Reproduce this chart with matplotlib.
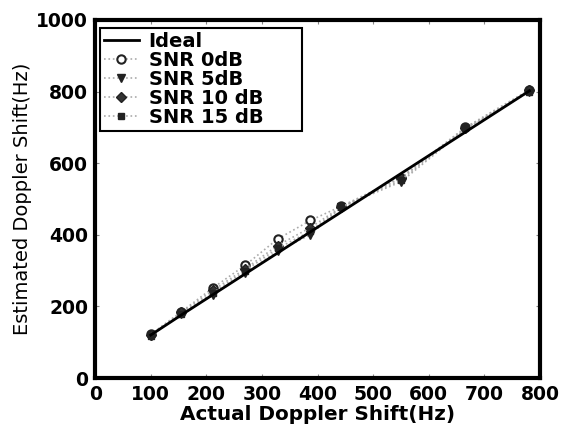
import matplotlib
matplotlib.use("Agg")
import matplotlib.pyplot as plt

plt.rcParams['font.family'] = ['DejaVu Sans']

actual = [100, 155, 212, 270, 328, 387, 443, 550, 666, 781]
ideal = [120, 176, 233, 291, 349, 408, 464, 571, 687, 802]
snr0 = [122, 185, 252, 315, 388, 440, 480, 560, 700, 805]
snr5 = [118, 178, 232, 292, 355, 400, 478, 548, 695, 800]
snr10 = [120, 183, 245, 305, 370, 420, 478, 558, 698, 803]
snr15 = [118, 180, 238, 300, 362, 410, 477, 553, 697, 800]

xticks = [0, 100, 200, 300, 400, 500, 600, 700, 800]
yticks = [0, 200, 400, 600, 800, 1000]

fig = plt.figure(figsize=(5.63, 4.34), dpi=100)
ax = fig.add_axes([0.169, 0.129, 0.790, 0.825])

ax.plot(actual, ideal, color='black', lw=2.0, label='Ideal', zorder=5)
ax.plot(actual, snr0, color='#aaaaaa', ls=':', lw=1.2, marker='o', ms=6,
        mfc='white', mec='#222222', mew=1.5, label='SNR 0dB', zorder=4)
ax.plot(actual, snr5, color='#aaaaaa', ls=':', lw=1.2, marker='v', ms=6,
        mfc='#222222', mec='#222222', label='SNR 5dB', zorder=4)
ax.plot(actual, snr10, color='#aaaaaa', ls=':', lw=1.2, marker='D', ms=5,
        mfc='#333333', mec='#222222', label='SNR 10 dB', zorder=4)
ax.plot(actual, snr15, color='#aaaaaa', ls=':', lw=1.2, marker='s', ms=5,
        mfc='#222222', mec='#222222', label='SNR 15 dB', zorder=4)

ax.set_xlim(0, 800)
ax.set_ylim(0, 1000)
ax.set_xticks(xticks)
ax.set_yticks(yticks)
ax.set_xticklabels([str(t) for t in xticks], fontsize=13.5, fontweight='bold')
ax.set_yticklabels([str(t) for t in yticks], fontsize=13.5, fontweight='bold')
ax.tick_params(direction='in', length=3, width=0.8, color='#888888', pad=5,
               top=True, right=True)
for s in ax.spines.values():
    s.set_linewidth(3)
    s.set_color('black')

ax.set_xlabel('Actual Doppler Shift(Hz)', fontsize=14.4, fontweight='bold', labelpad=1)
ax.set_ylabel('Estimated Doppler Shift(Hz)', fontsize=14, labelpad=3)

leg = ax.legend(loc='upper left', bbox_to_anchor=(0.011, 0.0, 0.454, 0.978),
                mode='expand', fancybox=False,
                edgecolor='black', framealpha=1, prop={'weight': 'bold', 'size': 14},
                handlelength=1.8, labelspacing=0.0, borderpad=0.2, handletextpad=0.5,
                borderaxespad=0.0)
leg.get_frame().set_linewidth(1.5)

fig.savefig('out.png', dpi=100)
